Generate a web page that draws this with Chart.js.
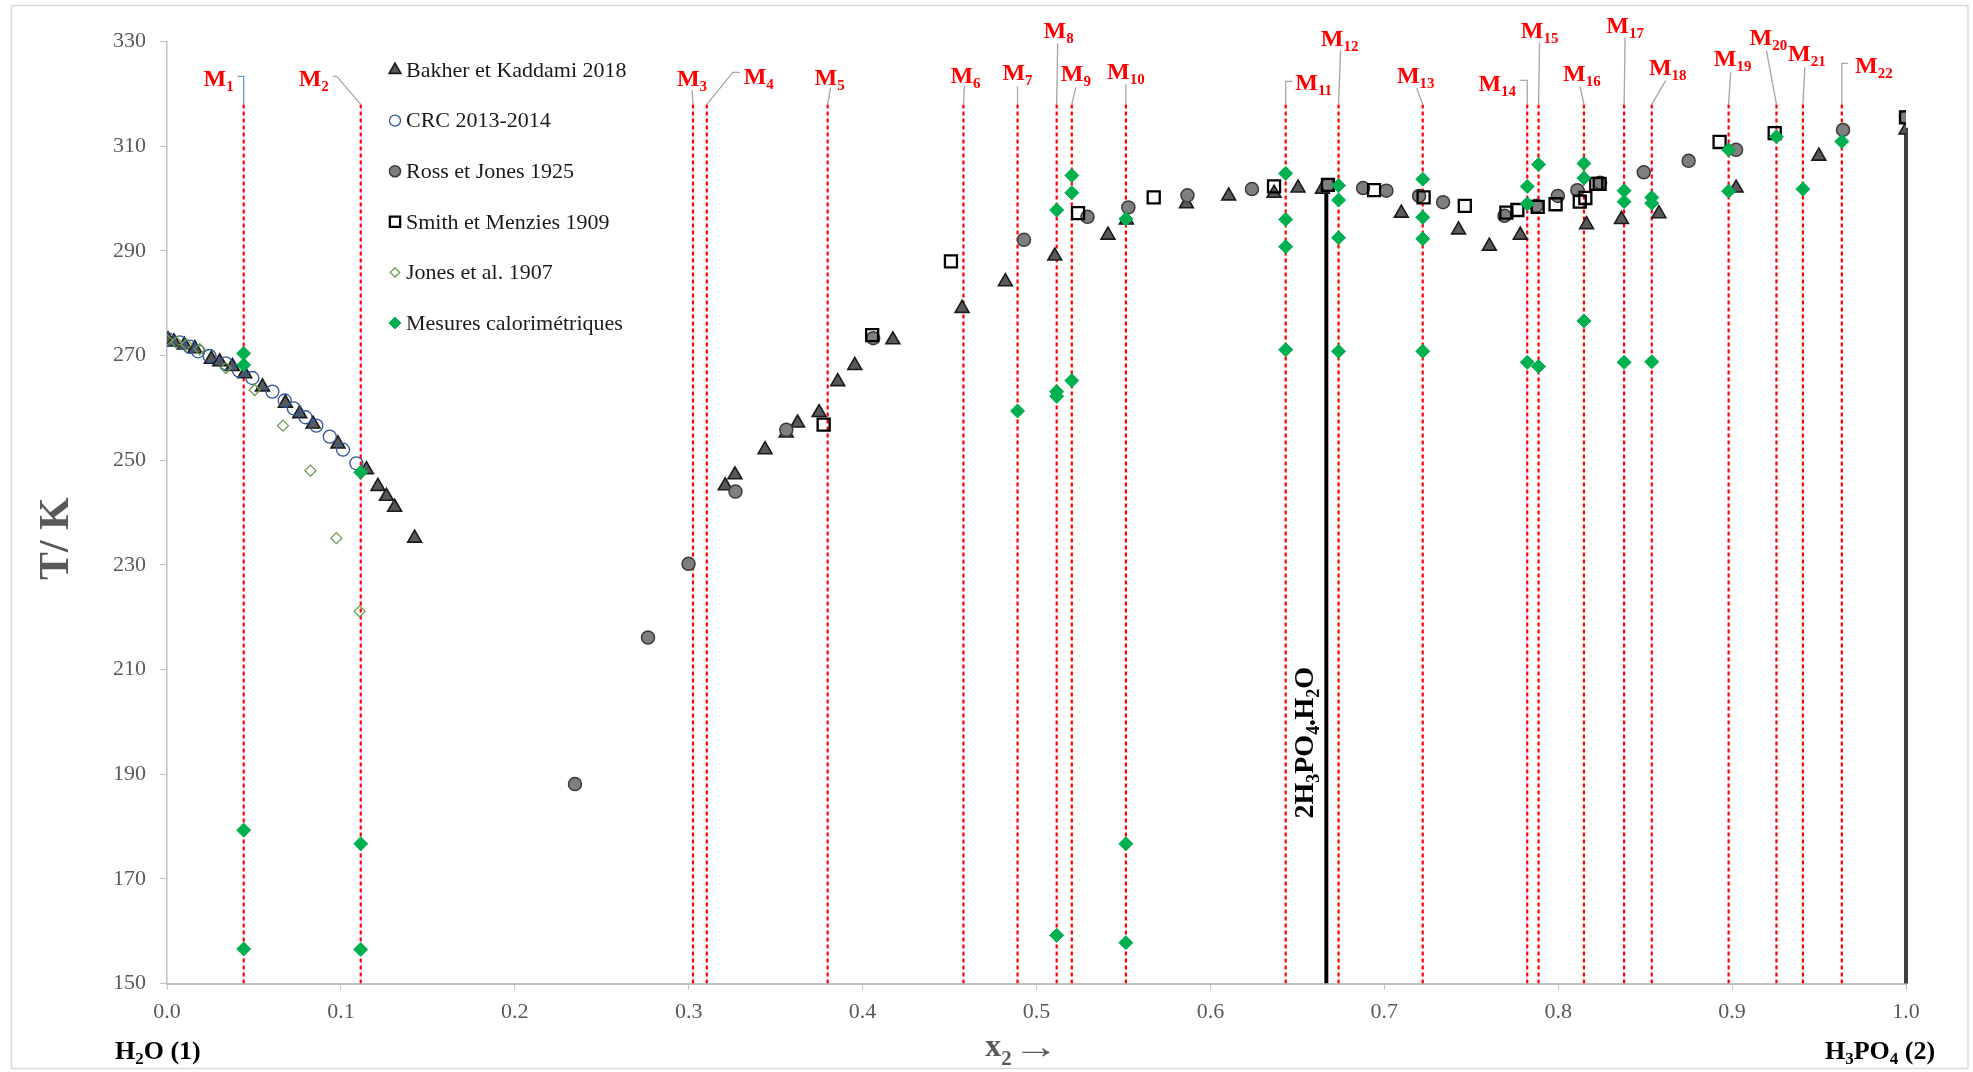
<!DOCTYPE html>
<html>
<head>
<meta charset="utf-8">
<title>H2O - H3PO4</title>
<script src="https://cdn.jsdelivr.net/npm/chart.js@4.4.1/dist/chart.umd.min.js"></script>
<style>
  html, body { margin: 0; padding: 0; background: #fff; }
  #wrap { width: 1973px; height: 1072px; }
</style>
</head>
<body>
<div id="wrap"><canvas id="sle" width="1973" height="1072"></canvas></div>
<script>
// ---- données ----
const tMin = 150, tMax = 330, tStep = 20;
const xMin = 0, xMax = 1, xStep = 0.1;

const bakherX = [0.0006, 0.004, 0.010, 0.016, 0.0255, 0.0303, 0.0376, 0.0447, 0.0549, 0.0681, 0.0763, 0.084, 0.0983, 0.1147, 0.1213, 0.1262, 0.1309, 0.1424,
  0.321, 0.3266, 0.3439, 0.3561, 0.3626, 0.375, 0.3857, 0.3955, 0.4174, 0.4572, 0.4821, 0.5105, 0.5411, 0.5517, 0.5862, 0.6105, 0.6366, 0.6504, 0.6644,
  0.7098, 0.7427, 0.7604, 0.7782, 0.8163, 0.8364, 0.8579, 0.9023, 0.9499, 1.0];
const bakherT = [273.0, 272.6, 272.0, 271.3, 269.3, 268.8, 267.9, 266.5, 264.0, 260.9, 258.9, 256.9, 253.1, 248.2, 245.0, 243.1, 241.0, 235.1,
  245.1, 247.2, 252.0, 255.2, 257.1, 259.1, 265.0, 268.1, 273.0, 279.0, 284.1, 289.0, 293.0, 295.9, 299.0, 300.5, 301.0, 302.0, 301.8,
  297.2, 294.0, 290.9, 293.0, 295.0, 296.0, 297.1, 302.0, 308.1, 313.1];

const crcX = [0.0006, 0.0073, 0.013, 0.0178, 0.0245, 0.0338, 0.0414, 0.0491, 0.0606, 0.0677, 0.0729, 0.0796, 0.0859, 0.0936, 0.1012, 0.1089];
const crcT = [273.1, 272.5, 271.7, 270.8, 269.9, 268.5, 267.1, 265.7, 263.1, 261.4, 259.9, 258.2, 256.6, 254.5, 252.0, 249.4];

const rossX = [0.2346, 0.2766, 0.2999, 0.3269, 0.3561, 0.4061, 0.4928, 0.5293, 0.5528, 0.5868, 0.6239, 0.6676, 0.6878, 0.7012, 0.72, 0.7338,
  0.7691, 0.7875, 0.7998, 0.811, 0.8241, 0.8492, 0.875, 0.9023, 0.9638, 1.0];
const rossT = [188.1, 216.1, 230.2, 244.0, 255.8, 273.3, 292.1, 296.5, 298.3, 300.6, 301.8, 302.6, 302.0, 301.5, 300.5, 299.3,
  296.7, 298.6, 300.5, 301.6, 303.0, 305.0, 307.2, 309.3, 313.1, 315.5];

const smithX = [0.3776, 0.4055, 0.4508, 0.5239, 0.5674, 0.6366, 0.6676, 0.6941, 0.7226, 0.7463, 0.7702, 0.7765, 0.7882, 0.7985, 0.8124, 0.8156,
  0.8219, 0.8238, 0.8928, 0.9245, 1.0];
const smithT = [256.8, 273.9, 288.0, 297.2, 300.2, 302.3, 302.6, 301.6, 300.2, 298.6, 297.3, 297.8, 298.4, 298.9, 299.4, 300.1,
  302.8, 302.8, 310.8, 312.5, 315.5];

const jonesX = [0.0, 0.0054, 0.0112, 0.0188, 0.0338, 0.0504, 0.0667, 0.0825, 0.0974, 0.1108];
const jonesT = [273.0, 272.5, 272.1, 271.2, 267.6, 263.4, 256.6, 248.0, 235.1, 221.1];

// lignes M1..M22 (x2) et leurs mesures calorimétriques (T/K)
const mLineX = [0.0441, 0.1114, 0.3025, 0.3104, 0.3799, 0.458, 0.4891, 0.5116, 0.5203, 0.5514, 0.6433, 0.6737,
  0.7221, 0.7822, 0.7887, 0.8148, 0.8379, 0.8538, 0.898, 0.9255, 0.9407, 0.9631];
const mLineTop = 318;
const mesuresT = [
  [270.4, 268.2, 179.3, 156.6],
  [247.7, 176.7, 156.5],
  [], [], [], [],
  [259.4],
  [297.8, 263.1, 262.2, 159.2],
  [304.4, 301.1, 265.2],
  [296.1, 176.7, 157.8],
  [304.8, 296.0, 290.8, 271.1],
  [302.5, 299.7, 292.5, 270.8],
  [303.7, 296.4, 292.3, 270.8],
  [302.3, 299.0, 268.7],
  [306.5, 267.9],
  [306.7, 303.9, 276.6],
  [301.5, 299.4, 268.7],
  [300.2, 299.1, 268.8],
  [309.3, 301.4],
  [311.8],
  [301.8],
  [310.9]
];

// composé 2H3PO4.H2O et H3PO4 pur
const compoundX = 2 / 3, compoundTop = 302.3;
const acidX = 1.0, acidTop = 313.5;

// ---- mise en page des étiquettes M (décalages en px depuis le haut de la ligne) ----
const mLabelLayout = [
  { t: [-25, -26], l: [[0, -28], [-6, -28]], c: '#5b9bd5' },
  { t: [-47, -26], l: [[-24, -28], [-28, -28]] },
  { t: [-1, -26], l: [[-1, -14]] },
  { t: [52, -28], l: [[26, -32], [33, -32]] },
  { t: [2, -27], l: [[3, -17]] },
  { t: [2, -29], l: [[1, -19]] },
  { t: [0, -32], l: [[0, -18]] },
  { t: [2, -74], l: [[1, -61]] },
  { t: [4, -31], l: [[4, -17]] },
  { t: [0, -33], l: [[0, -20]] },
  { t: [28, -22], l: [[0, -23], [7, -23]] },
  { t: [1, -66], l: [[2, -54]] },
  { t: [-7, -29], l: [[-6, -16]] },
  { t: [-30, -21], l: [[0, -24], [-7, -24]] },
  { t: [1, -74], l: [[1, -62]] },
  { t: [-2, -31], l: [[-4, -18]] },
  { t: [1, -79], l: [[1, -67]] },
  { t: [16, -37], l: [[14, -24]] },
  { t: [4, -46], l: [[2, -32]] },
  { t: [-8, -67], l: [[-10, -54]] },
  { t: [4, -51], l: [[2, -37]] },
  { t: [32, -39], l: [[0, -41], [6, -41]] }
];

const serif = '"Liberation Serif", "Times New Roman", serif';

function pts(xs, ts) {
  return xs.map((x, i) => ({ x: x, y: ts[i] }));
}

// lignes verticales pointillées (séparées par des trous)
const dashedPts = [];
mLineX.forEach(x => {
  dashedPts.push({ x: x, y: tMin }, { x: x, y: mLineTop }, { x: x, y: null });
});

const mesuresPts = [];
mLineX.forEach((x, i) => {
  mesuresT[i].forEach(t => mesuresPts.push({ x: x, y: t }));
});

function markerSet(label, data, style, radius, bg, border, bw, order) {
  return {
    label: label, data: data, showLine: false, order: order,
    pointStyle: style, pointRadius: radius, pointHoverRadius: radius,
    pointBackgroundColor: bg, pointBorderColor: border, pointBorderWidth: bw,
    backgroundColor: bg, borderColor: border
  };
}

const markerSets = [
  markerSet('Bakher et Kaddami 2018', pts(bakherX, bakherT), 'triangle', 8, '#595959', '#1a1a1a', 1.6, 6),
  markerSet('CRC 2013-2014', pts(crcX, crcT), 'circle', 6.5, 'rgba(255,255,255,0)', '#2f5597', 1.3, 5),
  markerSet('Ross et Jones 1925', pts(rossX, rossT), 'circle', 6.5, '#7f7f7f', '#3a3a3a', 1.5, 4),
  markerSet('Smith et Menzies 1909', pts(smithX, smithT), 'rect', 8.5, 'rgba(255,255,255,0)', '#000000', 2.3, 3),
  markerSet('Jones et al. 1907', pts(jonesX, jonesT), 'rectRot', 5.5, 'rgba(255,255,255,0)', '#6f9b4f', 1.3, 2),
  markerSet('Mesures calorimétriques', mesuresPts, 'rectRot', 7, '#00b050', '#00b050', 1, 1)
];

const lineSets = [
  { data: dashedPts, showLine: true, spanGaps: false, borderColor: '#ff0000', borderWidth: 2.2, borderDash: [4, 3],
    pointRadius: 0, order: 10, isLine: true },
  { data: [{ x: compoundX, y: tMin }, { x: compoundX, y: compoundTop }], showLine: true, borderColor: '#000000',
    borderWidth: 4, pointRadius: 0, order: 9, isLine: true },
  { data: [{ x: acidX, y: tMin }, { x: acidX, y: acidTop }], showLine: true, borderColor: '#404040',
    borderWidth: 4, pointRadius: 0, order: 8, clip: 6, isLine: true }
];

// texte avec indices : liste de [texte, indice?]
function drawRich(ctx, parts, x, y, size, subSize, subDrop, align) {
  let total = 0;
  parts.forEach(p => {
    ctx.font = (p[2] || 'bold ') + (p[1] ? subSize : size) + 'px ' + serif;
    total += ctx.measureText(p[0]).width;
  });
  let cx = align === 'center' ? x - total / 2 : x;
  ctx.textAlign = 'left';
  ctx.textBaseline = 'alphabetic';
  parts.forEach(p => {
    ctx.font = (p[2] || 'bold ') + (p[1] ? subSize : size) + 'px ' + serif;
    ctx.fillText(p[0], cx, y + (p[1] ? subDrop : 0));
    cx += ctx.measureText(p[0]).width;
  });
}

function legendPoint(ctx, ds, x, y) {
  ctx.save();
  ctx.fillStyle = ds.pointBackgroundColor;
  ctx.strokeStyle = ds.pointBorderColor;
  ctx.lineWidth = ds.pointBorderWidth;
  const opts = { pointStyle: ds.pointStyle, radius: ds.pointRadius * 0.85, rotation: 0, borderWidth: ds.pointBorderWidth };
  if (Chart.helpers && Chart.helpers.drawPoint) {
    Chart.helpers.drawPoint(ctx, opts, x, y);
  }
  ctx.restore();
}

const decor = {
  id: 'decor',
  beforeDraw(chart) {
    const ctx = chart.ctx;
    ctx.save();
    ctx.fillStyle = '#ffffff';
    ctx.fillRect(0, 0, chart.width, chart.height);
    ctx.strokeStyle = '#d9d9d9';
    ctx.lineWidth = 1.5;
    ctx.strokeRect(11.5, 5.5, 1956.5, 1063);
    ctx.restore();
  },
  afterDatasetsDraw(chart) {
    const ctx = chart.ctx;
    const xs = chart.scales.x, ys = chart.scales.y;
    const area = chart.chartArea;
    ctx.save();

    // étiquettes M1..M22 avec lignes de rappel
    mLineX.forEach((mx, i) => {
      const px = xs.getPixelForValue(mx), py = ys.getPixelForValue(mLineTop);
      const lay = mLabelLayout[i];
      ctx.beginPath();
      ctx.moveTo(px, py);
      lay.l.forEach(p => ctx.lineTo(px + p[0], py + p[1]));
      ctx.strokeStyle = lay.c || '#a6a6a6';
      ctx.lineWidth = 1.3;
      ctx.setLineDash([]);
      ctx.stroke();
      ctx.fillStyle = '#ff0000';
      drawRich(ctx, [['M'], [String(i + 1), true]], px + lay.t[0], py + lay.t[1] + 8, 24, 15, 5, 'center');
    });

    // composé 2H3PO4.H2O
    ctx.save();
    ctx.translate(xs.getPixelForValue(compoundX) - 22, ys.getPixelForValue(196));
    ctx.rotate(-Math.PI / 2);
    ctx.fillStyle = '#000000';
    drawRich(ctx, [['2H'], ['3', true], ['PO'], ['4', true], ['\u2022', true], ['H'], ['2', true], ['O']], 0, 9, 28, 18, 6, 'center');
    ctx.restore();

    // titre axe y
    ctx.save();
    ctx.translate(57, ys.getPixelForValue(235));
    ctx.rotate(-Math.PI / 2);
    ctx.fillStyle = '#595959';
    ctx.font = 'bold 42px ' + serif;
    ctx.textAlign = 'center';
    ctx.textBaseline = 'middle';
    ctx.fillText('T/ K', 0, 0);
    ctx.restore();

    // titre axe x et composants purs
    ctx.fillStyle = '#595959';
    drawRich(ctx, [['x'], ['2', true]], xs.getPixelForValue(0.4706), 1056, 32, 21, 9, 'left');
    ctx.save();
    ctx.translate(xs.getPixelForValue(0.4865), 1058);
    ctx.scale(1.35, 1);
    ctx.font = '34px ' + serif;
    ctx.textAlign = 'left';
    ctx.fillText('\u2192', 0, 0);
    ctx.restore();
    ctx.fillStyle = '#000000';
    drawRich(ctx, [['H'], ['2', true], ['O (1)']], 115, 1059, 26, 17, 5, 'left');
    drawRich(ctx, [['H'], ['3', true], ['PO'], ['4', true], [' (2)']], 1825, 1059, 26, 17, 5, 'left');

    // légende
    const lx = area.left + 228, ly = area.top + 28.5, gap = 50.6;
    chart.data.datasets.filter(d => !d.isLine).forEach((ds, i) => {
      const y = ly + i * gap;
      legendPoint(ctx, ds, lx, y);
      ctx.fillStyle = '#1a1a1a';
      ctx.font = '22px ' + serif;
      ctx.textAlign = 'left';
      ctx.textBaseline = 'middle';
      ctx.fillText(ds.label, lx + 11, y + 1);
    });

    ctx.restore();
  }
};

Chart.defaults.font.family = serif;

new Chart(document.getElementById('sle'), {
  type: 'scatter',
  data: { datasets: markerSets.concat(lineSets) },
  options: {
    responsive: false,
    animation: false,
    events: [],
    devicePixelRatio: 1,
    layout: { padding: { left: 0, top: 41.5, right: 67, bottom: 0 } },
    plugins: { legend: { display: false }, tooltip: { enabled: false } },
    scales: {
      x: {
        type: 'linear', min: xMin, max: xMax,
        afterFit(s) { s.height = 88.5; },
        border: { display: true, color: '#bfbfbf', width: 2 },
        grid: { display: true, drawOnChartArea: false, drawTicks: true, tickLength: 6, color: '#bfbfbf' },
        ticks: { stepSize: xStep, padding: 10, color: '#595959', font: { size: 22 },
          callback: v => v.toFixed(1), maxRotation: 0, autoSkip: false }
      },
      y: {
        type: 'linear', min: tMin, max: tMax,
        afterFit(s) { s.width = 167; },
        border: { display: true, color: '#bfbfbf', width: 1.5 },
        grid: { display: true, drawOnChartArea: false, drawTicks: true, tickLength: 7, color: '#bfbfbf' },
        ticks: { stepSize: tStep, padding: 14, color: '#595959', font: { size: 22 } }
      }
    }
  },
  plugins: [decor]
});
</script>
</body>
</html>
